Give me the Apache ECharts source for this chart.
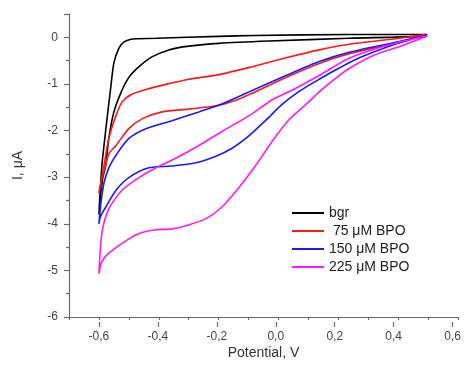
<!DOCTYPE html>
<html>
<head>
<meta charset="utf-8">
<script src="https://cdn.jsdelivr.net/npm/echarts@6/dist/echarts.min.js"></script>
<style>html,body{margin:0;padding:0;background:#fff}#c{width:464px;height:365px}</style>
</head>
<body>
<div id="c"></div>
<script>
const seriesNames = ['bgr', ' 75 \u03bcM BPO', '150 \u03bcM BPO', '225 \u03bcM BPO'];
const seriesColors = ['#000000', '#ff1a1a', '#1a1aff', '#ff1aff'];
const xTickLabels = ['-0,6', '-0,4', '-0,2', '0,0', '0,2', '0,4', '0,6'];
const yTickLabels = ['-6', '-5', '-4', '-3', '-2', '-1', '0'];

const bgr = [[0.497,0.06],[0.236,0.06],[-0.082,0.04],[-0.199,0.02],[-0.409,-0.02],[-0.47,-0.03],[-0.493,-0.04],[-0.516,-0.1],[-0.533,-0.23],[-0.55,-0.55],[-0.56,-1.05],[-0.573,-1.75],[-0.583,-2.32],[-0.59,-2.74],[-0.597,-3.43],[-0.6,-3.8],[-0.597,-3.54],[-0.587,-3.01],[-0.577,-2.74],[-0.567,-2.17],[-0.55,-1.6],[-0.526,-1.18],[-0.5,-0.86],[-0.466,-0.63],[-0.423,-0.42],[-0.366,-0.27],[-0.299,-0.19],[-0.199,-0.13],[-0.031,-0.08],[0.236,-0.02],[0.47,0.02],[0.497,0.06]];

const bpo75 = [[0.49,0.06],[0.403,-0.02],[0.236,-0.15],[0.136,-0.27],[0.025,-0.44],[-0.088,-0.63],[-0.199,-0.8],[-0.299,-0.9],[-0.376,-1.01],[-0.443,-1.12],[-0.49,-1.22],[-0.523,-1.39],[-0.543,-1.68],[-0.567,-2.17],[-0.583,-2.74],[-0.593,-3.12],[-0.6,-3.35],[-0.597,-3.22],[-0.587,-2.95],[-0.577,-2.74],[-0.567,-2.5],[-0.543,-2.32],[-0.5,-1.96],[-0.456,-1.75],[-0.389,-1.6],[-0.299,-1.54],[-0.209,-1.47],[-0.142,-1.35],[-0.088,-1.2],[0.025,-0.86],[0.136,-0.56],[0.236,-0.35],[0.403,-0.11],[0.49,0.06]];

const bpo150 = [[0.497,0.05],[0.403,-0.09],[0.236,-0.32],[0.136,-0.52],[0.025,-0.82],[-0.088,-1.14],[-0.189,-1.43],[-0.266,-1.6],[-0.356,-1.79],[-0.443,-1.96],[-0.5,-2.17],[-0.543,-2.53],[-0.567,-2.8],[-0.583,-3.12],[-0.593,-3.54],[-0.6,-4.0],[-0.595,-3.85],[-0.577,-3.64],[-0.543,-3.28],[-0.5,-3.01],[-0.433,-2.8],[-0.356,-2.76],[-0.276,-2.69],[-0.209,-2.55],[-0.155,-2.38],[-0.098,-2.11],[-0.041,-1.77],[0.012,-1.44],[0.069,-1.16],[0.136,-0.9],[0.203,-0.66],[0.27,-0.44],[0.37,-0.19],[0.453,-0.03],[0.497,0.05]];

const bpo225 = [[0.497,0.03],[0.37,-0.16],[0.236,-0.45],[0.136,-0.82],[0.05,-1.12],[-0.021,-1.34],[-0.098,-1.68],[-0.189,-2.02],[-0.266,-2.32],[-0.342,-2.59],[-0.409,-2.8],[-0.466,-3.01],[-0.523,-3.28],[-0.567,-3.68],[-0.59,-4.2],[-0.6,-5.07],[-0.593,-4.86],[-0.583,-4.74],[-0.567,-4.63],[-0.523,-4.42],[-0.466,-4.21],[-0.409,-4.13],[-0.356,-4.11],[-0.299,-4.02],[-0.242,-3.89],[-0.189,-3.64],[-0.132,-3.22],[-0.075,-2.74],[-0.021,-2.23],[0.035,-1.77],[0.102,-1.38],[0.136,-1.17],[0.193,-0.87],[0.236,-0.67],[0.32,-0.38],[0.403,-0.2],[0.47,-0.04],[0.497,0.03]];

const seriesData = [bgr, bpo75, bpo150, bpo225];

const chart = echarts.init(document.getElementById('c'), null, {renderer: 'canvas'});
const axisColor = '#6a6a6a';
const font = 'Liberation Sans, Arial, sans-serif';
const gridW = 464 - 69 - 6;
chart.setOption({
  animation: false,
  backgroundColor: '#fff',
  grid: [
    {left: 69, right: 6, top: 14, bottom: 43},
    {left: 69 + gridW * 0.1 / 1.3, right: 6, top: 14, bottom: 43}
  ],
  xAxis: [
    {
      type: 'value', gridIndex: 0, min: -0.7, max: 0.6, interval: 0.1,
      axisLine: {show: true, onZero: false, lineStyle: {color: axisColor, width: 1.2}},
      axisTick: {show: true, length: 3, lineStyle: {color: axisColor, width: 1.2}},
      axisLabel: {show: false},
      splitLine: {show: false},
      name: 'Potential, V', nameLocation: 'middle', nameGap: 29,
      nameTextStyle: {fontSize: 14, color: '#333', fontFamily: font}
    },
    {
      type: 'value', gridIndex: 1, min: -0.6, max: 0.6, interval: 0.2,
      axisLine: {show: false, onZero: false},
      axisTick: {show: true, length: 5, lineStyle: {color: axisColor, width: 1.2}},
      axisLabel: {
        margin: 9, fontSize: 12, color: '#444', fontFamily: font,
        formatter: function (v) {
          const i = Math.round((v + 0.6) / 0.2);
          return xTickLabels[i] !== undefined ? xTickLabels[i] : '';
        }
      },
      splitLine: {show: false}
    }
  ],
  yAxis: [
    {
      type: 'value', gridIndex: 0, min: -6, max: 0.5, interval: 1,
      axisLine: {show: true, onZero: false, lineStyle: {color: axisColor, width: 1.2}},
      axisTick: {show: true, length: 5, lineStyle: {color: axisColor, width: 1.2}},
      minorTick: {show: true, splitNumber: 2, length: 3, lineStyle: {color: axisColor, width: 1.2}},
      axisLabel: {
        margin: 11, fontSize: 12, color: '#444', fontFamily: font,
        formatter: function (v) {
          const i = Math.round(v + 6);
          return (Math.abs(v - Math.round(v)) < 1e-6 && yTickLabels[i] !== undefined) ? yTickLabels[i] : '';
        }
      },
      splitLine: {show: false},
      minorSplitLine: {show: false},
      name: 'I, \u03bcA', nameLocation: 'middle', nameGap: 44, nameRotate: 90,
      nameTextStyle: {fontSize: 14, color: '#333', fontFamily: font}
    },
    {type: 'value', gridIndex: 1, min: 0, max: 1, show: false, axisLine: {onZero: false}}
  ],
  legend: {
    orient: 'vertical', left: 287, top: 201,
    itemWidth: 32, itemHeight: 2, itemGap: 4, icon: 'rect',
    textStyle: {fontSize: 14, color: '#222', fontFamily: font, lineHeight: 14},
    data: seriesNames
  },
  series: seriesNames.map(function (name, k) {
    return {
      name: name, type: 'line', xAxisIndex: 0, yAxisIndex: 0,
      data: seriesData[k], showSymbol: false, symbol: 'none', smooth: 0.25,
      color: seriesColors[k],
      lineStyle: {color: seriesColors[k], width: 1.6}
    };
  })
});
</script>
</body>
</html>
